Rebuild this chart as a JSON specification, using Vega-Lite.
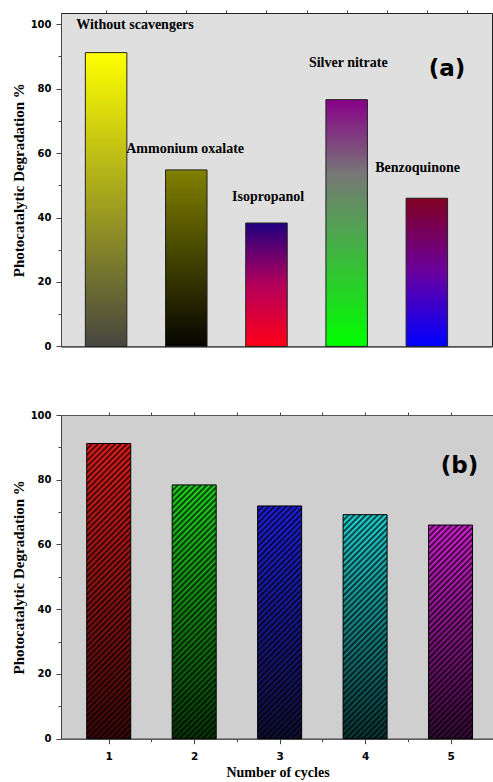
{
"$schema":"https://vega.github.io/schema/vega-lite/v6.json",
"background":"white",
"padding":{"left":10,"top":9,"right":0,"bottom":0},
"bounds":"flush",
"spacing":68,
"params":[{"name":"hs","value":[
{"offset":0,"color":"#000"},{"offset":0.0083,"color":"#0000"},{"offset":0.0167,"color":"#000"},{"offset":0.025,"color":"#0000"},{"offset":0.0333,"color":"#000"},{"offset":0.0417,"color":"#0000"},{"offset":0.05,"color":"#000"},{"offset":0.0583,"color":"#0000"},{"offset":0.0667,"color":"#000"},{"offset":0.075,"color":"#0000"},{"offset":0.0833,"color":"#000"},{"offset":0.0917,"color":"#0000"},
{"offset":0.1,"color":"#000"},{"offset":0.1083,"color":"#0000"},{"offset":0.1167,"color":"#000"},{"offset":0.125,"color":"#0000"},{"offset":0.1333,"color":"#000"},{"offset":0.1417,"color":"#0000"},{"offset":0.15,"color":"#000"},{"offset":0.1583,"color":"#0000"},{"offset":0.1667,"color":"#000"},{"offset":0.175,"color":"#0000"},{"offset":0.1833,"color":"#000"},{"offset":0.1917,"color":"#0000"},
{"offset":0.2,"color":"#000"},{"offset":0.2083,"color":"#0000"},{"offset":0.2167,"color":"#000"},{"offset":0.225,"color":"#0000"},{"offset":0.2333,"color":"#000"},{"offset":0.2417,"color":"#0000"},{"offset":0.25,"color":"#000"},{"offset":0.2583,"color":"#0000"},{"offset":0.2667,"color":"#000"},{"offset":0.275,"color":"#0000"},{"offset":0.2833,"color":"#000"},{"offset":0.2917,"color":"#0000"},
{"offset":0.3,"color":"#000"},{"offset":0.3083,"color":"#0000"},{"offset":0.3167,"color":"#000"},{"offset":0.325,"color":"#0000"},{"offset":0.3333,"color":"#000"},{"offset":0.3417,"color":"#0000"},{"offset":0.35,"color":"#000"},{"offset":0.3583,"color":"#0000"},{"offset":0.3667,"color":"#000"},{"offset":0.375,"color":"#0000"},{"offset":0.3833,"color":"#000"},{"offset":0.3917,"color":"#0000"},
{"offset":0.4,"color":"#000"},{"offset":0.4083,"color":"#0000"},{"offset":0.4167,"color":"#000"},{"offset":0.425,"color":"#0000"},{"offset":0.4333,"color":"#000"},{"offset":0.4417,"color":"#0000"},{"offset":0.45,"color":"#000"},{"offset":0.4583,"color":"#0000"},{"offset":0.4667,"color":"#000"},{"offset":0.475,"color":"#0000"},{"offset":0.4833,"color":"#000"},{"offset":0.4917,"color":"#0000"},
{"offset":0.5,"color":"#000"},{"offset":0.5083,"color":"#0000"},{"offset":0.5167,"color":"#000"},{"offset":0.525,"color":"#0000"},{"offset":0.5333,"color":"#000"},{"offset":0.5417,"color":"#0000"},{"offset":0.55,"color":"#000"},{"offset":0.5583,"color":"#0000"},{"offset":0.5667,"color":"#000"},{"offset":0.575,"color":"#0000"},{"offset":0.5833,"color":"#000"},{"offset":0.5917,"color":"#0000"},
{"offset":0.6,"color":"#000"},{"offset":0.6083,"color":"#0000"},{"offset":0.6167,"color":"#000"},{"offset":0.625,"color":"#0000"},{"offset":0.6333,"color":"#000"},{"offset":0.6417,"color":"#0000"},{"offset":0.65,"color":"#000"},{"offset":0.6583,"color":"#0000"},{"offset":0.6667,"color":"#000"},{"offset":0.675,"color":"#0000"},{"offset":0.6833,"color":"#000"},{"offset":0.6917,"color":"#0000"},
{"offset":0.7,"color":"#000"},{"offset":0.7083,"color":"#0000"},{"offset":0.7167,"color":"#000"},{"offset":0.725,"color":"#0000"},{"offset":0.7333,"color":"#000"},{"offset":0.7417,"color":"#0000"},{"offset":0.75,"color":"#000"},{"offset":0.7583,"color":"#0000"},{"offset":0.7667,"color":"#000"},{"offset":0.775,"color":"#0000"},{"offset":0.7833,"color":"#000"},{"offset":0.7917,"color":"#0000"},
{"offset":0.8,"color":"#000"},{"offset":0.8083,"color":"#0000"},{"offset":0.8167,"color":"#000"},{"offset":0.825,"color":"#0000"},{"offset":0.8333,"color":"#000"},{"offset":0.8417,"color":"#0000"},{"offset":0.85,"color":"#000"},{"offset":0.8583,"color":"#0000"},{"offset":0.8667,"color":"#000"},{"offset":0.875,"color":"#0000"},{"offset":0.8833,"color":"#000"},{"offset":0.8917,"color":"#0000"},
{"offset":0.9,"color":"#000"},{"offset":0.9083,"color":"#0000"},{"offset":0.9167,"color":"#000"},{"offset":0.925,"color":"#0000"},{"offset":0.9333,"color":"#000"},{"offset":0.9417,"color":"#0000"},{"offset":0.95,"color":"#000"},{"offset":0.9583,"color":"#0000"},{"offset":0.9667,"color":"#000"},{"offset":0.975,"color":"#0000"},{"offset":0.9833,"color":"#000"},{"offset":0.9917,"color":"#0000"},
{"offset":1,"color":"#000"}
]}],
"config":{
 "axis":{"grid":false,"domainColor":"#444","tickColor":"#444","labelFont":"DejaVu Sans","labelFontWeight":"bold","labelFontSize":10,"labelColor":"#000","labelPadding":5,"titleFont":"Liberation Serif","titleFontWeight":"bold","titleFontSize":15,"titleColor":"#000"}
},
"vconcat":[
{
 "width":431,"height":333.4,
 "view":{"fill":"#dfdfdf","stroke":"#222","strokeWidth":1},
 "resolve":{"axis":{"x":"independent","y":"independent"}},
 "layer":[
  {
   "data":{"values":[
    {"x":1,"y":91.2,"scavenger":"Without scavengers"},
    {"x":2,"y":54.8,"scavenger":"Ammonium oxalate"},
    {"x":3,"y":38.3,"scavenger":"Isopropanol"},
    {"x":4,"y":76.6,"scavenger":"Silver nitrate"},
    {"x":5,"y":46.0,"scavenger":"Benzoquinone"}]},
   "encoding":{
    "x":{"field":"x","type":"quantitative","scale":{"domain":[0.5,5.75],"nice":false,"zero":false},"axis":{"labels":false,"ticks":false,"title":null}},
    "y":{"field":"y","type":"quantitative","scale":{"domain":[0,103.5],"nice":false},"axis":{"orient":"left","values":[0,10,20,30,40,50,60,70,80,90,100],"labelExpr":"datum.value % 20 == 0 ? format(datum.value,'d') : ''","tickSize":{"condition":{"test":"datum.value % 20 == 0","value":5},"value":3},"title":"Photocatalytic Degradation %","titlePadding":4}}
   },
   "layer":[
    {"transform":[{"filter":"datum.x == 1"}],"mark":{"type":"bar","orient":"vertical","size":41.5,"stroke":"#222","strokeWidth":1,"fill":{"gradient":"linear","x1":0,"y1":0,"x2":0,"y2":1,"stops":[{"offset":0,"color":"#ffff00"},{"offset":1,"color":"#46463f"}]}}},
    {"transform":[{"filter":"datum.x == 2"}],"mark":{"type":"bar","orient":"vertical","size":41.5,"stroke":"#222","strokeWidth":1,"fill":{"gradient":"linear","x1":0,"y1":0,"x2":0,"y2":1,"stops":[{"offset":0,"color":"#808000"},{"offset":1,"color":"#050500"}]}}},
    {"transform":[{"filter":"datum.x == 3"}],"mark":{"type":"bar","orient":"vertical","size":41.5,"stroke":"#222","strokeWidth":1,"fill":{"gradient":"linear","x1":0,"y1":0,"x2":0,"y2":1,"stops":[{"offset":0,"color":"#200080"},{"offset":0.5,"color":"#b4005c"},{"offset":1,"color":"#ff0018"}]}}},
    {"transform":[{"filter":"datum.x == 4"}],"mark":{"type":"bar","orient":"vertical","size":41.5,"stroke":"#222","strokeWidth":1,"fill":{"gradient":"linear","x1":0,"y1":0,"x2":0,"y2":1,"stops":[{"offset":0,"color":"#880088"},{"offset":0.3,"color":"#777777"},{"offset":1,"color":"#00ff00"}]}}},
    {"transform":[{"filter":"datum.x == 5"}],"mark":{"type":"bar","orient":"vertical","size":41.5,"stroke":"#222","strokeWidth":1,"fill":{"gradient":"linear","x1":0,"y1":0,"x2":0,"y2":1,"stops":[{"offset":0,"color":"#800020"},{"offset":0.5,"color":"#6a00a0"},{"offset":1,"color":"#0000ff"}]}}}
   ]
  },
  {
   "data":{"values":[
    {"label":"Without scavengers","x":1.36,"y":99.8},
    {"label":"Ammonium oxalate","x":1.986,"y":61.2},
    {"label":"Isopropanol","x":3.021,"y":46.4},
    {"label":"Silver nitrate","x":4.02,"y":88.1},
    {"label":"Benzoquinone","x":4.885,"y":55.5}]},
   "mark":{"type":"text","font":"Liberation Serif","fontWeight":"bold","fontSize":14,"align":"center","baseline":"middle","color":"#000"},
   "encoding":{
    "x":{"field":"x","type":"quantitative","scale":{"domain":[0.5,5.75],"nice":false,"zero":false},"axis":{"orient":"top","values":[1,1.5,2,2.5,3,3.5,4,4.5,5,5.5],"labels":false,"domain":false,"tickSize":3,"title":null}},
    "y":{"field":"y","type":"quantitative","scale":{"domain":[0,103.5],"nice":false},"axis":null},
    "text":{"field":"label"}
   }
  },
  {
   "data":{"values":[{"label":"(a)","x":5.25,"y":86.1}]},
   "mark":{"type":"text","font":"DejaVu Sans","fontWeight":"bold","fontSize":23,"align":"center","baseline":"middle","color":"#000"},
   "encoding":{
    "x":{"field":"x","type":"quantitative","scale":{"domain":[0.5,5.75],"nice":false,"zero":false},"axis":null},
    "y":{"field":"y","type":"quantitative","scale":{"domain":[0,103.5],"nice":false},"axis":null},
    "text":{"field":"label"}
   }
  }
 ]
},
{
 "width":433,"height":323.7,
 "view":{"fill":"#cfcfcf","stroke":"#555","strokeWidth":1},
 "resolve":{"axis":{"x":"independent","y":"independent"}},
 "layer":[
  {
   "data":{"values":[
    {"x":1,"y":91.2},
    {"x":2,"y":78.4},
    {"x":3,"y":71.9},
    {"x":4,"y":69.2},
    {"x":5,"y":66.0}]},
   "encoding":{
    "x":{"field":"x","type":"quantitative","scale":{"domain":[0.5,5.45],"nice":false,"zero":false},"axis":{"orient":"bottom","values":[1,1.5,2,2.5,3,3.5,4,4.5,5],"labelExpr":"datum.value % 1 == 0 ? format(datum.value,'d') : ''","tickSize":{"condition":{"test":"datum.value % 1 == 0","value":5},"value":3},"labelFontSize":10.5,"labelPadding":8,"title":"Number of cycles","titleFontSize":14,"titlePadding":3}},
    "y":{"field":"y","type":"quantitative","scale":{"domain":[0,100],"nice":false},"axis":{"orient":"left","values":[0,10,20,30,40,50,60,70,80,90,100],"labelExpr":"datum.value % 20 == 0 ? format(datum.value,'d') : ''","tickSize":{"condition":{"test":"datum.value % 20 == 0","value":5},"value":3},"title":"Photocatalytic Degradation %","titlePadding":4}}
   },
   "layer":[
    {"transform":[{"filter":"datum.x == 1"}],"mark":{"type":"bar","orient":"vertical","size":44,"fill":{"gradient":"linear","x1":0,"y1":0,"x2":0,"y2":1,"stops":[{"offset":0,"color":"#ff2020"},{"offset":1,"color":"#400808"}]}}},
    {"transform":[{"filter":"datum.x == 2"}],"mark":{"type":"bar","orient":"vertical","size":44,"fill":{"gradient":"linear","x1":0,"y1":0,"x2":0,"y2":1,"stops":[{"offset":0,"color":"#22ee22"},{"offset":1,"color":"#083a08"}]}}},
    {"transform":[{"filter":"datum.x == 3"}],"mark":{"type":"bar","orient":"vertical","size":44,"fill":{"gradient":"linear","x1":0,"y1":0,"x2":0,"y2":1,"stops":[{"offset":0,"color":"#2222ff"},{"offset":1,"color":"#10103a"}]}}},
    {"transform":[{"filter":"datum.x == 4"}],"mark":{"type":"bar","orient":"vertical","size":44,"fill":{"gradient":"linear","x1":0,"y1":0,"x2":0,"y2":1,"stops":[{"offset":0,"color":"#22eeee"},{"offset":1,"color":"#0a3a3a"}]}}},
    {"transform":[{"filter":"datum.x == 5"}],"mark":{"type":"bar","orient":"vertical","size":44,"fill":{"gradient":"linear","x1":0,"y1":0,"x2":0,"y2":1,"stops":[{"offset":0,"color":"#ee22ee"},{"offset":1,"color":"#3a0a3a"}]}}},
    {"transform":[{"filter":"datum.x == 1"}],"mark":{"type":"bar","orient":"vertical","size":44,"stroke":"#000","strokeWidth":1,"fillOpacity":0.8,"fill":{"expr":"{gradient:'linear',x1:0,y1:0,x2:0.1719,y2:1.1533,stops:hs}"}}},
    {"transform":[{"filter":"datum.x == 2"}],"mark":{"type":"bar","orient":"vertical","size":44,"stroke":"#000","strokeWidth":1,"fillOpacity":0.8,"fill":{"expr":"{gradient:'linear',x1:0,y1:0,x2:0.2308,y2:1.3312,stops:hs}"}}},
    {"transform":[{"filter":"datum.x == 3"}],"mark":{"type":"bar","orient":"vertical","size":44,"stroke":"#000","strokeWidth":1,"fillOpacity":0.8,"fill":{"expr":"{gradient:'linear',x1:0,y1:0,x2:0.2730,y2:1.4439,stops:hs}"}}},
    {"transform":[{"filter":"datum.x == 4"}],"mark":{"type":"bar","orient":"vertical","size":44,"stroke":"#000","strokeWidth":1,"fillOpacity":0.8,"fill":{"expr":"{gradient:'linear',x1:0,y1:0,x2:0.2938,y2:1.4958,stops:hs}"}}},
    {"transform":[{"filter":"datum.x == 5"}],"mark":{"type":"bar","orient":"vertical","size":44,"stroke":"#000","strokeWidth":1,"fillOpacity":0.8,"fill":{"expr":"{gradient:'linear',x1:0,y1:0,x2:0.3219,y2:1.5629,stops:hs}"}}}
   ]
  },
  {
   "data":{"values":[{"label":"(b)","x":5.106,"y":84.3}]},
   "mark":{"type":"text","font":"DejaVu Sans","fontWeight":"bold","fontSize":23,"align":"center","baseline":"middle","color":"#000"},
   "encoding":{
    "x":{"field":"x","type":"quantitative","scale":{"domain":[0.5,5.45],"nice":false,"zero":false},"axis":{"orient":"top","values":[1,1.5,2,2.5,3,3.5,4,4.5,5],"labels":false,"domain":false,"tickSize":3,"title":null}},
    "y":{"field":"y","type":"quantitative","scale":{"domain":[0,100],"nice":false},"axis":null},
    "text":{"field":"label"}
   }
  }
 ]
}
]
}
